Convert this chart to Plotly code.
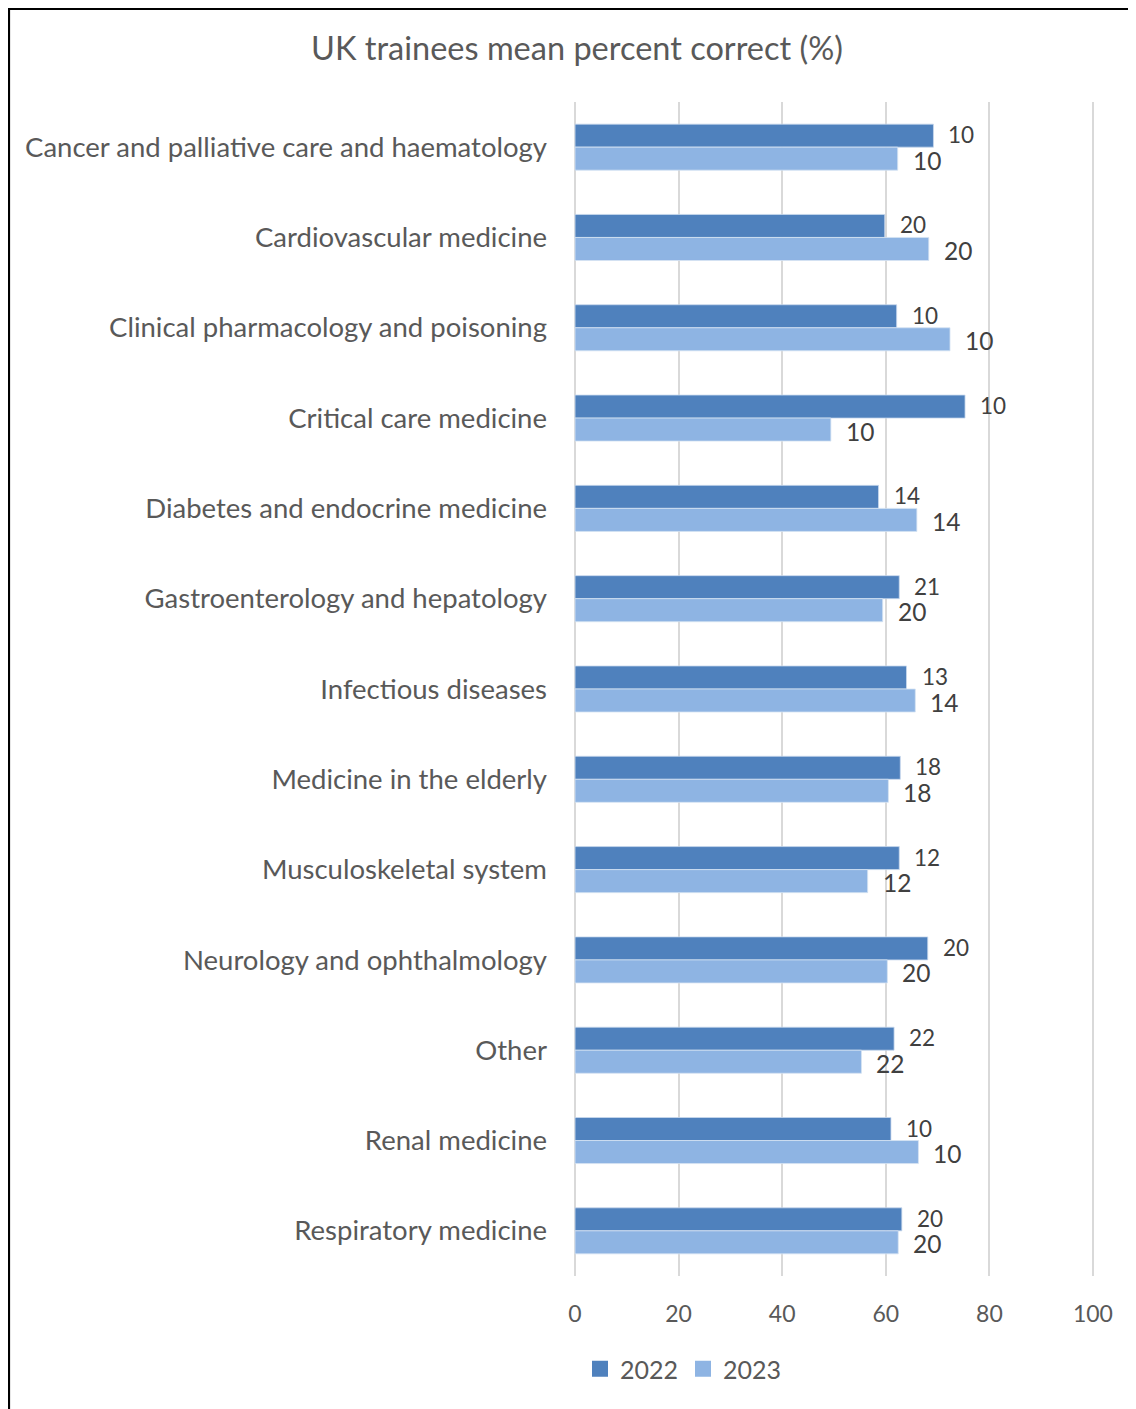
import plotly.graph_objects as go

categories = [
    "Cancer and palliative care and haematology",
    "Cardiovascular medicine",
    "Clinical pharmacology and poisoning",
    "Critical care medicine",
    "Diabetes and endocrine medicine",
    "Gastroenterology and hepatology",
    "Infectious diseases",
    "Medicine in the elderly",
    "Musculoskeletal system",
    "Neurology and ophthalmology",
    "Other",
    "Renal medicine",
    "Respiratory medicine",
]
values_2022 = [69.2, 59.8, 62.1, 75.3, 58.6, 62.6, 64.0, 62.8, 62.6, 68.1, 61.6, 61.0, 63.1]
values_2023 = [62.3, 68.3, 72.4, 49.4, 66.0, 59.4, 65.7, 60.5, 56.5, 60.3, 55.3, 66.3, 62.4]
labels_2022 = ["10", "20", "10", "10", "14", "21", "13", "18", "12", "20", "22", "10", "20"]
labels_2023 = ["10", "20", "10", "10", "14", "20", "14", "18", "12", "20", "22", "10", "20"]
x_ticks = [0, 20, 40, 60, 80, 100]

# page has an 8px body margin; figure placed at (8, 8)
OFF = 8
W, H = 1136 - OFF, 1409 - OFF
ML, MR, MT, MB = 574 - OFF, 42, 102 - OFF, 133
PW, PH = W - ML - MR, H - MT - MB

FONT = "Lato"
C2022 = "#4F81BD"
C2023 = "#8EB4E3"


def px_x(p):  # page pixel -> paper x
    return (p - OFF - ML) / PW


def px_y(p):  # page pixel -> paper y
    return 1 - (p - OFF - MT) / PH


fig = go.Figure()
fig.add_trace(go.Bar(y=categories, x=values_2022, name="2022", orientation="h", showlegend=False,
                     marker=dict(color=C2022, line=dict(color="#C9D9EE", width=0.8))))
fig.add_trace(go.Bar(y=categories, x=values_2023, name="2023", orientation="h", showlegend=False,
                     marker=dict(color=C2023, line=dict(color="#D6E3F3", width=0.8))))
# legend entries with larger square swatches
fig.add_trace(go.Scatter(x=[None], y=[None], mode="markers", name="2022",
                         marker=dict(symbol="square", size=18, color=C2022)))
fig.add_trace(go.Scatter(x=[None], y=[None], mode="markers", name="2023",
                         marker=dict(symbol="square", size=18, color=C2023)))

annotations = []
for c, v, t in zip(categories, values_2022, labels_2022):
    annotations.append(dict(x=v, y=c, xref="x", yref="y", text=t, showarrow=False,
                            xanchor="left", yanchor="middle", xshift=14, yshift=12.5,
                            borderpad=0,
                            font=dict(family=FONT, size=22.5, color="#404040")))
for c, v, t in zip(categories, values_2023, labels_2023):
    annotations.append(dict(x=v, y=c, xref="x", yref="y", text=t, showarrow=False,
                            xanchor="left", yanchor="middle", xshift=14, yshift=-13,
                            borderpad=0,
                            font=dict(family=FONT, size=24.5, color="#404040")))

shapes = [
    dict(type="line", xref="paper", yref="paper", x0=px_x(9), x1=px_x(9),
         y0=px_y(9), y1=px_y(1420), line=dict(color="black", width=2.2)),
    dict(type="line", xref="paper", yref="paper", x0=px_x(8), x1=px_x(1145),
         y0=px_y(9), y1=px_y(9), line=dict(color="black", width=2.2)),
]

fig.update_layout(
    width=W, height=H,
    margin=dict(l=ML, r=MR, t=MT, b=MB, autoexpand=False),
    paper_bgcolor="white", plot_bgcolor="white",
    barmode="group", bargap=0.49, bargroupgap=0,
    title=dict(text="UK trainees mean percent correct (%)", x=(577 - OFF) / W, xanchor="center",
               y=1 - (49 - OFF) / H, yanchor="middle",
               font=dict(family=FONT, size=32.5, color="#595959")),
    xaxis=dict(range=[-0.2, 100.2], tickvals=x_ticks, ticktext=[str(v) for v in x_ticks],
               showgrid=True, gridcolor="#D9D9D9", gridwidth=1.5, zeroline=False,
               showline=False, ticks="", ticklen=0, ticklabelstandoff=22,
               tickfont=dict(family=FONT, size=23, color="#595959")),
    yaxis=dict(autorange="reversed", showgrid=False, zeroline=False, showline=False,
               ticks="", ticklabelstandoff=26,
               tickfont=dict(family=FONT, size=27.5, color="#595959")),
    legend=dict(orientation="h", x=px_x(580), xanchor="left", y=px_y(1369), yanchor="middle",
                font=dict(family=FONT, size=25, color="#595959"),
                itemwidth=30, traceorder="normal", tracegroupgap=0),
    annotations=annotations,
    shapes=shapes,
)

fig.write_html("out.html")
